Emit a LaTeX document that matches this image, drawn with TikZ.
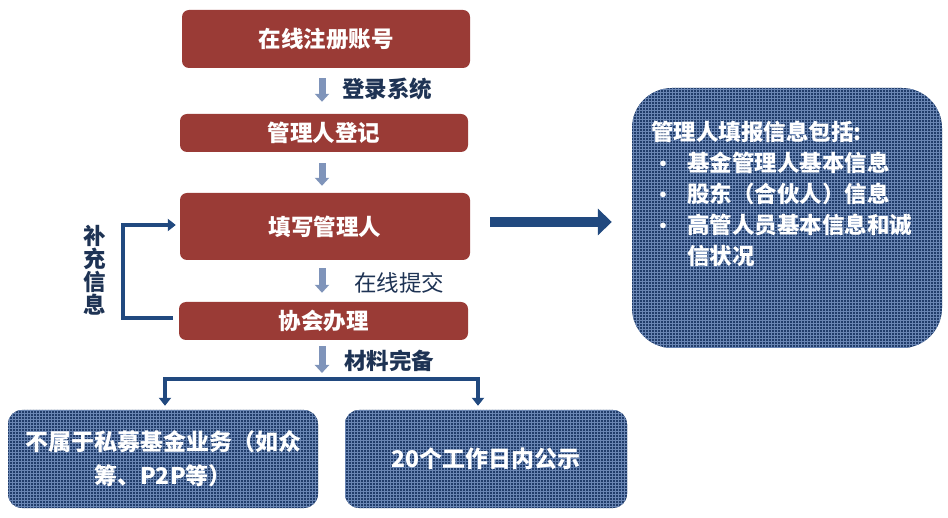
\documentclass[tikz,border=0pt]{standalone}
\usepackage{fontspec}
\setmainfont{Noto Sans CJK SC}
\usetikzlibrary{arrows.meta,patterns}
\definecolor{boxred}{HTML}{9A3B36}
\definecolor{boxnavy}{HTML}{213D6B}
\definecolor{gridnavy}{HTML}{6A86B4}
\definecolor{linkblue}{HTML}{21497F}
\definecolor{labelnavy}{HTML}{1E3354}
\definecolor{stepgray}{HTML}{7F94BA}

\begin{document}
\begin{tikzpicture}[x=1pt,y=-1pt,
    redbox/.style={fill=boxred, rounded corners=7pt, text=white, inner sep=0pt,
      font=\bfseries\fontsize{22.5}{26}\selectfont},
    navybox/.style={fill=boxnavy, postaction={pattern=grid, pattern color=gridnavy},
      rounded corners=14pt, text=white, inner sep=0pt, align=center,
      font=\bfseries\fontsize{23}{34}\selectfont},
    stepflow/.style={line width=7pt, stepgray, -{Triangle[length=8pt,width=14pt]}},
    steplabel/.style={text=labelnavy, inner sep=0pt, font=\bfseries\fontsize{22.5}{24}\selectfont},
    link/.style={line width=4pt, linkblue},
    bigflow/.style={line width=10pt, linkblue, -{Triangle[length=14pt,width=26pt]}}]
        \useasboundingbox (0,0) rectangle (948,518);

        % Registration steps
        \node[redbox, minimum width=288pt, minimum height=58pt] (b1) at (326,39) {在线注册账号};
        \node[redbox, minimum width=288pt, minimum height=38pt] (b2) at (324,133) {管理人登记};
        \node[redbox, minimum width=290pt, minimum height=67pt] (b3) at (325,226.5) {填写管理人};
        \node[redbox, minimum width=289pt, minimum height=38pt] (b4) at (323.5,321) {协会办理};

        % Step arrows and labels
        \draw[stepflow] ([xshift=-4pt,yshift=-10pt]b1.south) -- ([xshift=-2pt,yshift=12pt]b2.north);
        \draw[stepflow] ([xshift=-2pt,yshift=-11pt]b2.south) -- ([xshift=-3pt,yshift=7pt]b3.north);
        \draw[stepflow] ([xshift=-3pt,yshift=-8pt]b3.south) -- ([xshift=-1.5pt,yshift=9pt]b4.north);
        \coordinate (done) at (322,373);
        \draw[stepflow] ([xshift=-1.5pt,yshift=-6pt]b4.south) -- (done);
        \node[steplabel, anchor=west] (l1) at (342,89) {登录系统};
        \node[steplabel, anchor=west, font=\fontsize{22.5}{24}\selectfont] (l2) at (354,283) {在线提交};
        \node[steplabel, anchor=west] (l3) at (344,361) {材料完备};

        % Loop back for missing info
        \draw[link, -{Triangle[length=8pt,width=12pt]}] ([xshift=-6pt,yshift=3pt]b4.west) -- ++(-50,0) |- ([xshift=-4pt,yshift=1.5pt]b3.west);
        \node[steplabel, align=center, font=\bfseries\fontsize{22.5}{23}\selectfont] (loop) at (95,270) {补\\充\\信\\息};

        % Outcomes
        \node[navybox, minimum width=310pt, minimum height=98pt] (b5) at (163,459) {不属于私募基金业务（如众\\筹、P2P等）};
        \node[navybox, minimum width=282pt, minimum height=98pt] (b6) at (486,459) {20个工作日内公示};
        \draw[link, {Triangle[length=8pt,width=12pt]}-{Triangle[length=8pt,width=12pt]}]
          ([xshift=2pt,yshift=4pt]b5.north) -- ++(0,-27) -| ([xshift=-8pt,yshift=4pt]b6.north);

        % Info box
        \node[navybox, rounded corners=40pt, minimum width=310pt, minimum height=260pt] (b7) at (787,218) {};
        \node[anchor=north west, text=white, inner sep=0pt, align=left,
          font=\bfseries\fontsize{22.5}{31}\selectfont] (b7t) at (651,121)
          {管理人填报信息包括:\\
           \makebox[36pt][l]{\hspace{2pt}{\fontsize{20}{20}\selectfont •}}基金管理人基本信息\\
           \makebox[36pt][l]{\hspace{2pt}{\fontsize{20}{20}\selectfont •}}股东（合伙人）信息\\
           \makebox[36pt][l]{\hspace{2pt}{\fontsize{20}{20}\selectfont •}}高管人员基本信息和诚\\
           \makebox[36pt][l]{}信状况};
        \draw[bigflow] ([xshift=20pt,yshift=4.5pt]b3.east) -- ([xshift=-20pt,yshift=-4pt]b7.west);
      \end{tikzpicture}
\end{document}
